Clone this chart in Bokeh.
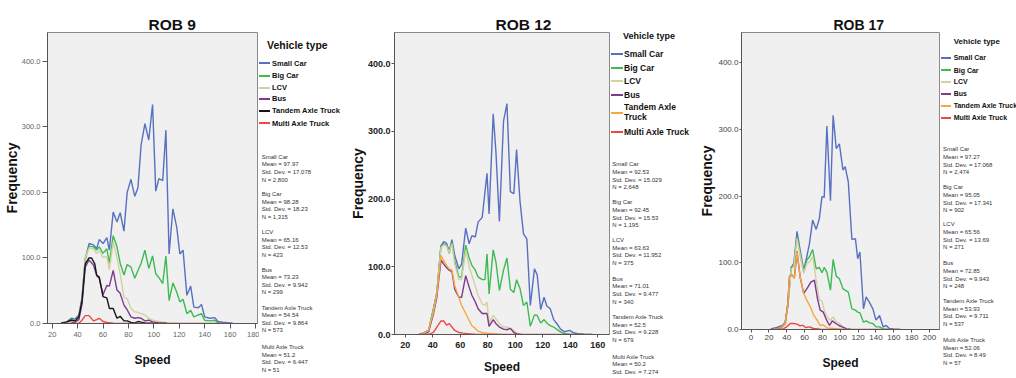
from bokeh.plotting import figure
from bokeh.models import Range1d, FixedTicker, PrintfTickFormatter, Div
from bokeh.layouts import row
from bokeh.embed import file_html
from bokeh.resources import INLINE

# ---------------- data ----------------
vehicle_types = ["Small Car", "Big Car", "LCV", "Bus", "Tandem Axle Truck", "Multi Axle Truck"]
y_ticks = [0, 100, 200, 300, 400]

# ROB 9
r9_small_x = [27, 31, 35, 38, 41, 43.5, 46, 49, 52.5, 55, 57, 60, 63, 65, 68, 71, 73.5, 76.5, 79, 82, 85, 87.5, 90, 93, 96, 99, 101.5, 104, 107, 109.5, 112, 115, 118, 120.5, 123, 126, 129, 131.5, 135, 137.5, 140, 144, 148, 150.5, 154, 160, 162]
r9_small_y = [1, 2, 8, 7, 13, 40, 97, 122, 120, 114, 128, 122, 131, 112, 170, 155, 169, 141, 200, 220, 194, 207, 273, 305, 280, 334, 202, 221, 218, 295, 106, 175, 147, 106, 112, 43, 57, 25, 24, 29, 10, 8, 9, 3, 2, 1, 0.5]
r9_big_x = [27, 31, 35, 38, 41, 43.5, 46, 49, 52.5, 55, 57, 60, 63, 65, 68, 71, 73.5, 76.5, 79, 82, 85, 87.5, 90, 93, 96, 99, 101.5, 104, 107, 109.5, 112, 115, 118, 120.5, 123, 126, 129, 131.5, 135, 137.5, 140, 144, 148, 150.5, 154]
r9_big_y = [0.5, 1, 6, 6, 9, 38, 100, 118, 117, 112, 117, 107, 114, 92, 134, 117, 92, 74, 90, 86, 69, 81, 92, 112, 84, 103, 76, 70, 61, 103, 35, 62, 48, 33, 37, 15, 20, 10, 13, 15, 5, 4, 5, 1, 0.5]
r9_lcv_x = [31, 35, 38, 41, 43.5, 46, 49, 52.5, 55, 57, 60, 63, 65, 68, 71, 73.5, 76.5, 79, 82, 85, 87.5, 90, 93, 96, 99, 101.5, 104, 107, 112, 120]
r9_lcv_y = [0.5, 4, 5, 8, 35, 100, 115, 114, 107, 111, 101, 102, 82, 124, 101, 76, 40, 38, 23, 18, 17, 15, 13, 8, 5, 4, 3, 2, 1, 0.5]
r9_bus_x = [35, 38, 41, 43.5, 46, 49, 52.5, 55, 57, 60, 63, 65, 68, 71, 73.5, 76.5, 79, 82, 85, 87.5, 90, 93, 96, 99, 104, 110]
r9_bus_y = [1, 2, 6, 30, 86, 97, 89, 73, 69, 44, 58, 57, 81, 51, 46, 28, 21, 10, 8, 9, 8, 4, 5, 2.5, 1, 0.5]
r9_tandem_x = [27, 31, 35, 38, 41, 43.5, 46, 49, 51, 53.5, 55, 57, 60, 63, 65, 68, 71, 73.5, 76.5, 79, 82, 85, 87.5, 90, 93, 99, 110]
r9_tandem_y = [1, 2, 5, 4, 10, 35, 91, 100, 100, 91, 74, 71, 41, 39, 23, 23, 8, 11, 4, 4, 1.5, 1, 3, 2, 1, 0.5, 0]
r9_multi_x = [27, 41, 43.5, 46, 49, 52.5, 55, 57, 60, 63, 68, 75, 162]
r9_multi_y = [0, 0.5, 5, 12, 12, 4, 6, 8, 3, 1.5, 0.5, 0, 0]
r9_mean = ["97.97", "98.28", "65.16", "73.23", "54.54", "51.2"]
r9_sd = ["17.078", "18.23", "12.53", "9.942", "9.864", "6.447"]
r9_n = ["2,800", "1,315", "423", "299", "573", "51"]
r9_xticks = [20, 40, 60, 80, 100, 120, 140, 160, 180]

# ROB 12
r12_small_x = [30, 33, 37, 40.5, 43, 46, 48, 50, 52, 54, 56, 59, 61, 64, 66.5, 68.5, 71, 73, 76, 79.5, 81, 84, 86, 88.5, 91.5, 94, 96.5, 99, 101, 103.5, 106, 108.5, 111, 114, 116, 118.5, 121, 123, 125.5, 128, 130, 133, 136, 139.5, 142, 146, 150, 156]
r12_small_y = [0.5, 2, 6, 38, 62, 131, 137, 135, 123, 140, 117, 97, 104, 157, 134, 146, 144, 166, 173, 238, 178, 326, 269, 167, 315, 341, 211, 208, 273, 197, 149, 141, 43, 97, 88, 37, 55, 42, 38, 22, 17, 8, 4, 6, 3, 1, 0.5, 0]
r12_big_x = [30, 33, 37, 40.5, 43, 46, 48, 50, 52, 54, 56, 59, 61, 64, 66.5, 68.5, 71, 73, 76, 78, 79.5, 81, 84, 86, 88.5, 91.5, 94, 96.5, 99, 101, 103.5, 106, 108.5, 111, 114, 116, 118.5, 121, 123, 125.5, 128, 130, 133, 136, 140, 150]
r12_big_y = [0, 1, 5, 36, 60, 131, 134, 132, 120, 136, 109, 85, 85, 132, 113, 102, 95, 85, 81, 81, 119, 60, 125, 107, 65, 95, 113, 67, 62, 81, 68, 43, 48, 12, 29, 28, 17, 22, 17, 13, 11, 8, 4, 1, 0.5, 0]
r12_lcv_x = [33, 37, 40.5, 43, 46, 48, 50, 52, 54, 56, 59, 61, 64, 66.5, 68.5, 71, 73, 76, 78, 79.5, 81, 84, 86, 88.5, 91.5, 94, 96.5, 99, 101, 105]
r12_lcv_y = [1, 5, 35, 60, 128, 132, 131, 121, 134, 104, 81, 81, 124, 100, 87, 72, 58, 45, 43, 48, 18, 28, 23, 16, 11, 11, 9, 6, 2, 0.5]
r12_bus_x = [33, 37, 40.5, 43, 46, 48, 50, 52, 54, 56, 59, 61, 64, 66.5, 68.5, 71, 73, 76, 78, 79.5, 81, 84, 86, 88.5, 91.5, 94, 96.5, 99, 101, 104]
r12_bus_y = [0.5, 4, 30, 55, 110, 104, 99, 95, 93, 67, 55, 55, 87, 70, 58, 48, 38, 31, 31, 31, 12, 22, 16, 11, 8, 7, 9, 3, 1, 0]
r12_tandem_x = [30, 33, 37, 40.5, 43, 46, 48, 50, 52, 54, 56, 59, 61, 64, 66.5, 68.5, 71, 73, 76, 79.5, 82, 90]
r12_tandem_y = [0, 1, 6, 33, 58, 117, 109, 102, 97, 95, 72, 55, 43, 31, 21, 13, 9, 5, 3, 2, 1, 0]
r12_multi_x = [30, 36, 38, 40.5, 43, 46, 48, 50, 52, 54, 56, 59, 62, 67, 72, 156]
r12_multi_y = [0, 0.5, 1, 3, 11, 20, 20, 14, 16, 11, 6, 3, 2, 1, 0, 0]
r12_mean = ["92.53", "92.45", "63.63", "71.01", "52.5", "50.2"]
r12_sd = ["15.029", "15.53", "11.952", "9.477", "9.228", "7.274"]
r12_n = ["2,648", "1,195", "375", "340", "679", ""]
r12_xticks = [20, 40, 60, 80, 100, 120, 140, 160]

# ROB 17
r17_small_x = [22, 29, 35, 38.5, 42, 45, 48, 51.5, 55, 59, 62.5, 65.5, 69, 73, 76.5, 79.5, 82, 85, 89, 92, 95.5, 99, 103, 105.5, 109, 113, 117, 119.5, 122, 126, 129, 133, 136.5, 140, 144, 148, 151.5, 155, 160, 167]
r17_small_y = [1, 3, 6, 11, 49, 93, 99, 147, 119, 89, 109, 129, 164, 150, 166, 199, 198, 305, 193, 321, 271, 278, 239, 244, 221, 135, 136, 106, 116, 31, 49, 40, 31, 14, 21, 4, 6, 1.5, 0.5, 0]
r17_big_x = [29, 35, 38.5, 42, 45, 48, 51.5, 55, 59, 62.5, 65.5, 69, 73, 76.5, 79.5, 82, 85, 89, 92, 95.5, 99, 103, 105.5, 109, 113, 117, 119.5, 122, 126, 129, 133, 136.5, 140, 144, 148, 155, 165]
r17_big_y = [1, 4, 9, 46, 93, 96, 139, 114, 86, 104, 109, 120, 91, 93, 85, 93, 86, 59, 105, 80, 76, 61, 59, 56, 31, 29, 26, 25, 11, 13, 10, 9, 4, 4, 1, 0.5, 0]
r17_lcv_x = [29, 35, 38.5, 42, 45, 48, 51.5, 55, 59, 62.5, 65.5, 69, 73, 76.5, 79.5, 82, 85, 89, 92, 95.5, 99, 103, 107, 112]
r17_lcv_y = [0.5, 3, 8, 46, 91, 94, 136, 111, 84, 99, 101, 109, 74, 44, 43, 29, 19, 14, 19, 11, 9, 4, 1.5, 0]
r17_bus_x = [33, 38, 41, 43, 46, 48.5, 51.5, 55, 59, 63.5, 67, 71, 74.5, 77.5, 81, 84, 88, 91, 95, 98.5, 102, 107, 112]
r17_bus_y = [2, 9, 34, 79, 82, 77, 117, 79, 54, 63, 71, 74, 46, 29, 26, 16, 6, 13, 9, 6, 4, 1, 0]
r17_tandem_x = [25, 33, 38, 41, 43, 46, 48.5, 51.5, 55, 59, 62.5, 66.5, 70, 74, 77.5, 81, 85, 92.5, 100, 110]
r17_tandem_y = [0, 2, 9, 34, 79, 82, 77, 117, 79, 54, 44, 34, 22, 14, 6, 7, 2.5, 1.5, 0.5, 0]
r17_multi_x = [22, 36, 40, 44, 47.5, 51.5, 55, 58, 61, 65.5, 70, 77.5, 85, 168]
r17_multi_y = [0, 1, 4, 9, 9, 8, 5.5, 6.5, 3, 4, 1.5, 0.5, 0, 0]
r17_mean = ["97.27", "95.05", "65.56", "72.85", "53.93", "52.06"]
r17_sd = ["17.068", "17.341", "13.69", "9.943", "9.711", "8.49"]
r17_n = ["2,474", "902", "271", "248", "537", "57"]
r17_xticks = [0, 20, 40, 60, 80, 100, 120, 140, 160, 180, 200]

SANS = "Liberation Sans"
COL_SMALL = "#5870c2"
COL_BIG = "#3dbb52"
COL_LCV = "#d5d0a0"
COL_BUS = "#7d3a8c"
COL_MULTI = "#ef4646"
H = 378


def chart(title, series, colors, xticks, xr, yr, fw, fh, borders, c):
    left, right, top, bottom = borders
    p = figure(width=left + fw + right, height=top + fh + bottom,
               frame_width=fw, frame_height=fh,
               min_border_left=left, min_border_right=right,
               min_border_top=top, min_border_bottom=bottom,
               x_range=Range1d(*xr), y_range=Range1d(*yr), title=title,
               output_backend="svg", toolbar_location=None)
    p.title.align = "left"
    p.title.offset = c["title_off"]
    p.title.standoff = 0
    p.title.text_font = SANS
    p.title.text_font_style = "bold"
    p.title.text_font_size = c["title_size"]
    p.title.text_color = "#111111"
    p.background_fill_color = "#f0f0f0"
    p.border_fill_color = "white"
    p.outline_line_color = "#8a8a8a"
    p.xgrid.visible = False
    p.ygrid.visible = False
    for ax in (p.xaxis[0], p.yaxis[0]):
        ax.axis_line_color = "#555555"
        ax.major_tick_line_color = "#555555"
        ax.major_tick_in = 0
        ax.minor_tick_in = 0
        ax.minor_tick_out = 0
        ax.major_label_text_font = SANS
        ax.major_label_text_font_size = c["tick_size"]
        ax.major_label_text_font_style = c["tick_style"]
        ax.major_label_text_color = c["tick_color"]
        ax.axis_label_text_font = SANS
        ax.axis_label_text_font_style = "bold"
        ax.axis_label_text_color = "#111111"
    p.yaxis.major_tick_out = c["ytick_out"]
    p.yaxis.major_label_standoff = c["ystandoff"]
    p.xaxis.major_tick_out = c["xtick_out"]
    p.xaxis.major_label_standoff = c["xstandoff"]
    p.yaxis.axis_label = "Frequency"
    p.yaxis.axis_label_text_font_size = "14px"
    p.yaxis.axis_label_standoff = c["freq_standoff"]
    p.xaxis.axis_label = "Speed"
    p.xaxis.axis_label_text_font_size = "12px"
    p.xaxis.axis_label_standoff = c["speed_standoff"]
    p.xaxis.ticker = FixedTicker(ticks=xticks)
    p.yaxis.ticker = FixedTicker(ticks=y_ticks)
    p.yaxis.formatter = PrintfTickFormatter(format="%.1f")
    for (xs, ys), col in zip(series, colors):
        p.line(xs, ys, line_color=col, line_width=1.4)
    return p


def span(left, cy, text, size, bold=False, color="#111111"):
    lh = size + 2
    return ('<div style="position:absolute;left:%.1fpx;top:%.1fpx;line-height:%.1fpx;'
            'font-family:\'Liberation Sans\',Arial,sans-serif;font-size:%.1fpx;font-weight:%s;'
            'color:%s;white-space:nowrap;">%s</div>'
            % (left, cy - lh / 2.0, lh, size, "bold" if bold else "normal", color, text))


def side(width, colors, mean, sd, n, c):
    parts = []
    vx, vy = c["vt_pos"]
    parts.append(span(vx, vy, "Vehicle type", c["vt_size"], bold=True))
    gw, tx = c["glyph_w"], c["text_x"]
    for name, col, cy, lab in zip(vehicle_types, colors, c["leg_y"], c["leg_lines"]):
        parts.append('<div style="position:absolute;left:0px;top:%dpx;width:%dpx;height:2px;'
                     'background-color:%s;"></div>' % (int(round(cy - 1)), gw, col))
        if len(lab) == 1:
            parts.append(span(tx, cy, lab[0], c["leg_size"], bold=True))
        else:
            d = c["leg_size"] * 1.2 / 2.0
            parts.append(span(tx, cy - d, lab[0], c["leg_size"], bold=True))
            parts.append(span(tx, cy + d, lab[1], c["leg_size"], bold=True))
    sx = c["stats_x"]
    for k, name in enumerate(vehicle_types):
        lines = [name, "Mean = " + mean[k], "Std. Dev. = " + sd[k]]
        if n[k]:
            lines.append("N = " + n[k])
        for j, t in enumerate(lines):
            parts.append(span(sx, c["stats_y"][k] + j * c["stats_step"], t, 6, color="#333333"))
    html = ('<div style="position:relative;width:%dpx;height:%dpx;background:white;">%s</div>'
            % (width, H, "".join(parts)))
    return Div(text=html, width=width, height=H, margin=(0, 0, 0, 0))


cols9 = [COL_SMALL, COL_BIG, COL_LCV, COL_BUS, "#151515", COL_MULTI]
cols12 = [COL_SMALL, COL_BIG, COL_LCV, COL_BUS, "#f8a640", COL_MULTI]
one_line = [[t] for t in vehicle_types]

p1 = chart("ROB 9",
           [(r9_small_x, r9_small_y), (r9_big_x, r9_big_y), (r9_lcv_x, r9_lcv_y),
            (r9_bus_x, r9_bus_y), (r9_tandem_x, r9_tandem_y), (r9_multi_x, r9_multi_y)],
           cols9, r9_xticks, (16.3, 181.6), (0, 444), 210, 291, (47, 2, 32, 55),
           dict(title_off=101, title_size="15.5px", tick_size="7.5px",
                tick_style="normal", tick_color="#666666", ytick_out=5, ystandoff=2,
                xtick_out=5, xstandoff=3, freq_standoff=-1, speed_standoff=13))
d1 = side(87, cols9, r9_mean, r9_sd, r9_n,
          dict(vt_pos=(8, 45), vt_size=10.5, glyph_w=11, text_x=13, leg_size=7.5,
               leg_y=[63.3, 76, 88, 99, 111, 123.3], leg_lines=one_line,
               stats_x=2.7, stats_y=[156.7, 194, 232, 269.5, 307.5, 347], stats_step=7.6))

p2 = chart("ROB 12",
           [(r12_small_x, r12_small_y), (r12_big_x, r12_big_y), (r12_lcv_x, r12_lcv_y),
            (r12_bus_x, r12_bus_y), (r12_tandem_x, r12_tandem_y), (r12_multi_x, r12_multi_y)],
           cols12, r12_xticks, (12.2, 168.6), (0, 446), 215, 302, (45, 2, 24, 52),
           dict(title_off=101, title_size="15.5px", tick_size="9px",
                tick_style="bold", tick_color="#222222", ytick_out=3, ystandoff=1,
                xtick_out=3, xstandoff=4, freq_standoff=-1, speed_standoff=9))
d2 = side(80, cols12, r12_mean, r12_sd, r12_n,
          dict(vt_pos=(12, 36.7), vt_size=9, glyph_w=12, text_x=13, leg_size=8.5,
               leg_y=[54, 68, 81, 95, 112.5, 132],
               leg_lines=[["Small Car"], ["Big Car"], ["LCV"], ["Bus"], ["Tandem Axle", "Truck"], ["Multi Axle Truck"]],
               stats_x=1.3, stats_y=[164.3, 202.3, 240, 278.7, 317, 356.7], stats_step=7.7))

p3 = chart("ROB 17",
           [(r17_small_x, r17_small_y), (r17_big_x, r17_big_y), (r17_lcv_x, r17_lcv_y),
            (r17_bus_x, r17_bus_y), (r17_tandem_x, r17_tandem_y), (r17_multi_x, r17_multi_y)],
           cols12, r17_xticks, (-10.7, 211.2), (0, 445), 198, 297, (50, 2, 29, 52),
           dict(title_off=92, title_size="14px", tick_size="8px",
                tick_style="normal", tick_color="#444444", ytick_out=2, ystandoff=1,
                xtick_out=3, xstandoff=2, freq_standoff=0, speed_standoff=13))
d3 = side(78, cols12, r17_mean, r17_sd, r17_n,
          dict(vt_pos=(12.7, 41.7), vt_size=8, glyph_w=10, text_x=12.7, leg_size=7,
               leg_y=[57.7, 70.3, 81.7, 93.7, 105.7, 117.7], leg_lines=one_line,
               stats_x=2, stats_y=[149.3, 187.3, 224.3, 263.3, 301, 340], stats_step=7.6))

layout = row(p1, d1, p2, d2, p3, d3)
open("out.html", "w").write(file_html(layout, INLINE))
